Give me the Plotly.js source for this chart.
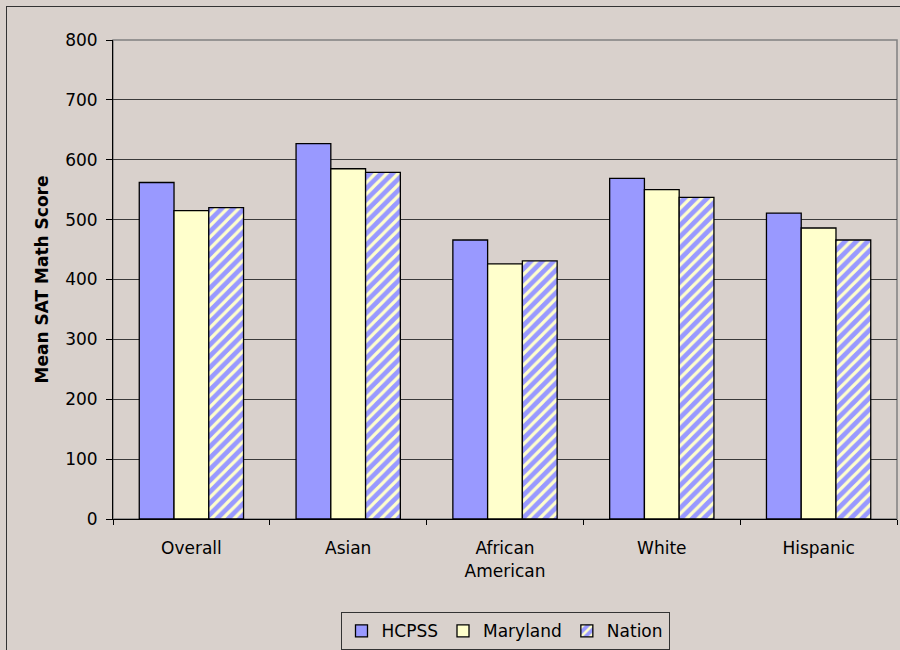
<!DOCTYPE html>
<html>
<head>
<meta charset="utf-8">
<script src="https://cdn.plot.ly/plotly-3.0.1.min.js"></script>
<style>
  html, body { margin: 0; padding: 0; background: #D9D1CC; }
  #wrap { position: relative; width: 900px; height: 650px; overflow: hidden; }
  #chart { width: 900px; height: 650px; }
  #frame { position: absolute; left: 6px; top: 6px; width: 1000px; height: 1000px;
           border-left: 1.5px solid #333; border-top: 1.5px solid #333; pointer-events: none; }
</style>
</head>
<body>
<div id="wrap">
  <div id="chart"></div>
  <div id="frame"></div>
</div>
<script>
const categories = ["Overall", "Asian", "African<br>American", "White", "Hispanic"];
const hcpss = [562, 627, 466, 569, 511];
const maryland = [515, 585, 426, 550, 486];
const nation = [520, 579, 431, 537, 466];
const yTicks = [0, 100, 200, 300, 400, 500, 600, 700, 800];

const FONT = "DejaVu Sans, Arial, sans-serif";
const BG = "#D9D1CC";

const barLine = { color: "#000000", width: 1.3 };

const traces = [
  { type: "bar", name: "HCPSS", x: categories, y: hcpss,
    marker: { color: "#9999FF", line: barLine } },
  { type: "bar", name: "Maryland", x: categories, y: maryland,
    marker: { color: "#FFFFCC", line: barLine } },
  { type: "bar", name: "Nation", x: categories, y: nation,
    marker: { color: "#9999FF", line: barLine,
      pattern: { shape: "/", bgcolor: "#9999FF", fgcolor: "#FFFFCC", size: 8, solidity: 0.4 } } }
];

const layout = {
  width: 900, height: 650,
  margin: { l: 113, r: 3, t: 40, b: 131, autoexpand: false },
  paper_bgcolor: BG, plot_bgcolor: BG,
  font: { family: FONT, size: 17, color: "#000" },
  barmode: "group", bargap: 0.335, bargroupgap: 0,
  showlegend: true,
  legend: {
    orientation: "h", x: 0.5, xanchor: "center",
    yref: "container", y: 0.058, yanchor: "top",
    bgcolor: BG, bordercolor: "#333", borderwidth: 1,
    font: { family: FONT, size: 17, color: "#000" },
    traceorder: "normal", itemclick: false
  },
  xaxis: {
    type: "category", tickson: "boundaries", ticks: "outside", ticklen: 5,
    tickcolor: "#000", showline: true, linecolor: "#000", linewidth: 1,
    showgrid: false, ticklabelstandoff: 14, automargin: false,
    tickfont: { family: FONT, size: 17, color: "#000" }
  },
  yaxis: {
    range: [0, 800], tickvals: yTicks, ticks: "outside", ticklen: 6,
    tickcolor: "#000", showline: true, linecolor: "#000", linewidth: 1,
    showgrid: true, gridcolor: "#3a3a3a", gridwidth: 1, zeroline: false,
    automargin: false, ticklabelstandoff: 5,
    tickfont: { family: FONT, size: 17, color: "#000" },
    title: { text: "Mean SAT Math Score", standoff: 12,
             font: { family: FONT, size: 17, color: "#000", weight: "bold" } }
  },
  shapes: [
    { type: "rect", xref: "paper", yref: "paper", x0: 0, x1: 1, y0: 0, y1: 1,
      line: { color: "#808080", width: 1.5 }, layer: "below" }
  ]
};

Plotly.newPlot("chart", traces, layout, { staticPlot: true, displayModeBar: false });
</script>
</body>
</html>
